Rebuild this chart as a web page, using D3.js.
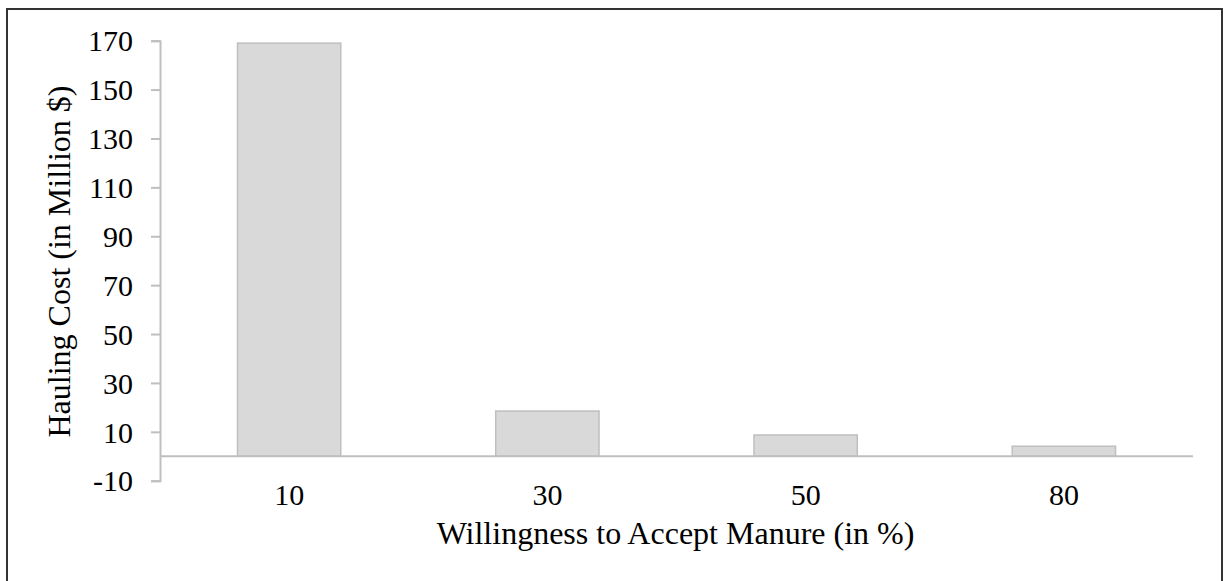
<!DOCTYPE html>
<html>
<head>
<meta charset="utf-8">
<script src="https://cdn.jsdelivr.net/npm/d3@7"></script>
<style>
  html, body { margin: 0; padding: 0; background: #fff; }
  svg { display: block; }
  text { font-family: "Liberation Serif", "Times New Roman", serif; fill: #000; }
</style>
</head>
<body>
<svg id="chart" width="1227" height="581"></svg>
<script>
// Willingness to accept manure (%) and the resulting hauling cost (million $)
const categories = ["10", "30", "50", "80"];
const haulingCost = [169, 18.5, 8.7, 4.1];
const yTicks = [-10, 10, 30, 50, 70, 90, 110, 130, 150, 170];

const plot = { left: 160, right: 1193, top: 40.7, bottom: 480.7 };

const svg = d3.select("#chart");

// chart frame
svg.append("path")
  .attr("d", "M7,581V9H1222V581")
  .attr("fill", "none").attr("stroke", "#333").attr("stroke-width", 2);

const x = d3.scaleBand()
  .domain(categories)
  .range([plot.left, plot.right])
  .paddingInner(0.6).paddingOuter(0.3);

const y = d3.scaleLinear()
  .domain([-10, 170])
  .range([plot.bottom, plot.top]);

// bars
svg.append("g").selectAll("rect")
  .data(categories.map((c, i) => ({ c, v: haulingCost[i] })))
  .join("rect")
  .attr("x", d => x(d.c))
  .attr("y", d => y(d.v))
  .attr("width", x.bandwidth())
  .attr("height", d => y(0) - y(d.v))
  .attr("fill", "#d9d9d9")
  .attr("stroke", "#bfbfbf")
  .attr("stroke-width", 1.5);

// horizontal category axis along zero
const xAxis = svg.append("g")
  .attr("transform", `translate(0,${y(0)})`)
  .call(d3.axisBottom(x).tickSize(0).tickPadding(0));
xAxis.select(".domain").attr("stroke", "#bfbfbf").attr("stroke-width", 2)
  .attr("d", `M${plot.left},0H${plot.right}`);
xAxis.selectAll(".tick text")
  .attr("y", 505 - y(0))
  .attr("dy", 0)
  .style("font-size", "30px");

// value axis
const yAxis = svg.append("g")
  .attr("transform", `translate(${plot.left},0)`)
  .call(d3.axisLeft(y).tickValues(yTicks).tickSize(9).tickPadding(18)
    .tickFormat(d => String(d)));
yAxis.select(".domain").attr("stroke", "#bfbfbf").attr("stroke-width", 2);
yAxis.selectAll(".tick line").attr("stroke", "#bfbfbf").attr("stroke-width", 2);
yAxis.selectAll(".tick text").style("font-size", "30px").attr("dy", "0.34em");

// axis titles
svg.append("text")
  .attr("x", 675.5)
  .attr("y", 544)
  .attr("text-anchor", "middle")
  .style("font-size", "32px")
  .text("Willingness to Accept Manure (in %)");

svg.append("text")
  .attr("transform", "translate(70,261.5) rotate(-90)")
  .attr("text-anchor", "middle")
  .style("font-size", "32px")
  .text("Hauling Cost (in Million $)");
</script>
</body>
</html>
